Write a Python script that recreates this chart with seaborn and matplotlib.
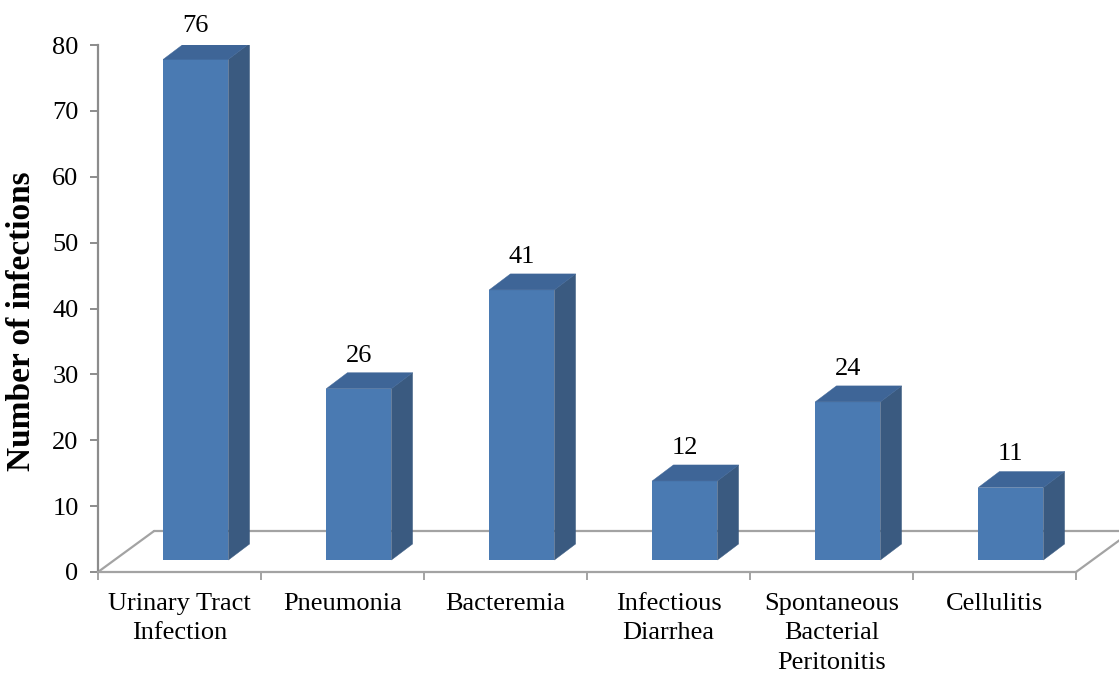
import numpy as np
import pandas as pd
import matplotlib
matplotlib.use("Agg")
import matplotlib.pyplot as plt
import seaborn as sns
from matplotlib.patches import Polygon
from matplotlib.lines import Line2D

# ---- data ----
categories = ["Urinary Tract\nInfection", "Pneumonia", "Bacteremia",
              "Infectious\nDiarrhea", "Spontaneous\nBacterial\nPeritonitis", "Cellulitis"]
counts = [76, 26, 41, 12, 24, 11]
y_ticks = [0, 10, 20, 30, 40, 50, 60, 70, 80]
y_label = "Number of infections"

# ---- style ----
FRONT = "#4A7AB2"
SIDE = "#3A5A80"
TOP = "#3E6597"
AXIS = "#8C8C8C"
FLOOR = "#A3A3A3"

# pseudo-3D geometry (in data units)
FLOOR_DX, FLOOR_DY = 0.344, 6.22     # depth of the floor
SHIFT_X, SHIFT_Y = 0.100, 1.82       # bar front face position in depth
BAR_DX, BAR_DY = 0.130, 2.43         # bar depth

sns.set_theme(style="white")
plt.rcParams['font.family'] = ['Liberation Serif', 'DejaVu Serif']

fig = plt.figure(figsize=(11.19, 6.74), dpi=100)
ax = fig.add_axes([98 / 1119, 102 / 674, 978 / 1119, 527 / 674])

df = pd.DataFrame({"category": categories, "count": counts})
sns.barplot(data=df, x="category", y="count", color=FRONT, width=0.4,
            saturation=1, ax=ax, zorder=3, linewidth=0, edgecolor=FRONT)
bars = list(ax.patches)

xmin, xmax = -0.5, len(categories) - 0.5
ax.set_xlim(xmin, xmax)
ax.set_ylim(0, 80)

# floor (parallelogram)
floor_kw = dict(color=FLOOR, lw=1.6, zorder=1, clip_on=False)
ax.add_line(Line2D([xmin + FLOOR_DX, xmax + FLOOR_DX], [FLOOR_DY, FLOOR_DY], **floor_kw))
ax.add_line(Line2D([xmin, xmin + FLOOR_DX], [0, FLOOR_DY], **floor_kw))
ax.add_line(Line2D([xmax, xmax + FLOOR_DX], [0, FLOOR_DY], **floor_kw))

# 3-D bars built from seaborn's bars
for p, v in zip(bars, counts):
    x0 = p.get_x() + SHIFT_X
    w = p.get_width()
    h = p.get_height()
    p.set_x(x0)
    p.set_y(SHIFT_Y)
    top = SHIFT_Y + h
    side = Polygon([(x0 + w, SHIFT_Y), (x0 + w + BAR_DX, SHIFT_Y + BAR_DY),
                    (x0 + w + BAR_DX, top + BAR_DY), (x0 + w, top)],
                   closed=True, facecolor=SIDE, edgecolor=SIDE, lw=0.3, zorder=3)
    lid = Polygon([(x0, top), (x0 + w, top), (x0 + w + BAR_DX, top + BAR_DY),
                   (x0 + BAR_DX, top + BAR_DY)],
                  closed=True, facecolor=TOP, edgecolor=TOP, lw=0.3, zorder=3)
    ax.add_patch(side)
    ax.add_patch(lid)
    ax.text(x0 + w / 2, top + BAR_DY + 1.7, f"{v}", ha="center", va="baseline",
            fontsize=19, color="black", zorder=5, clip_on=False)

# axes styling
for s in ["top", "right"]:
    ax.spines[s].set_visible(False)
for s in ["left", "bottom"]:
    ax.spines[s].set_color(AXIS)
    ax.spines[s].set_linewidth(1.6)
ax.spines["bottom"].set_color(FLOOR)

ax.set_yticks(y_ticks)
ax.set_yticklabels([str(t) for t in y_ticks], fontsize=19)
ax.tick_params(axis="y", direction="out", length=6, width=1.4, color=AXIS, pad=8, left=True,
               labelcolor="black")

ax.set_xticks(np.arange(len(categories)))
ax.set_xticklabels(categories, fontsize=19, linespacing=1.45)
ax.tick_params(axis="x", which="major", length=0, pad=15, labelcolor="black")
ax.set_xticks(np.arange(len(categories) + 1) - 0.5, minor=True)
ax.tick_params(axis="x", which="minor", direction="out", length=6, width=1.4,
               color=FLOOR, bottom=True)

ax.set_xlabel("")
ax.set_ylabel("")
fig.text(22 / 1119, 1 - 321 / 674, y_label, rotation=90, ha="center", va="center",
         fontsize=24, fontweight="bold", color="black")

fig.savefig("out.png", dpi=100)
